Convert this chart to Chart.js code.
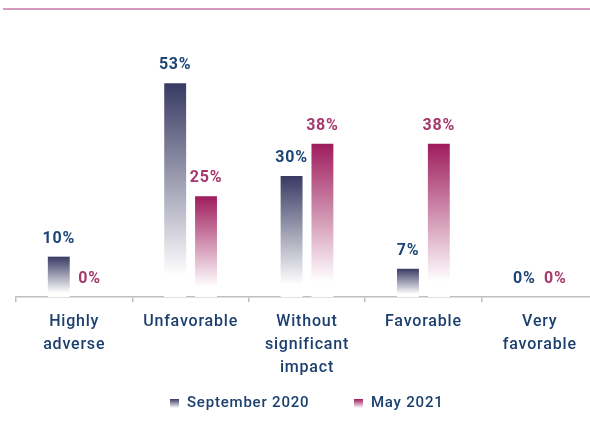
<!DOCTYPE html>
<html>
<head>
<meta charset="utf-8">
<script src="https://cdn.jsdelivr.net/npm/chart.js@4/dist/chart.umd.min.js"></script>
<style>
html,body{margin:0;padding:0;background:#fff;overflow:hidden;}
#wrap{position:relative;width:600px;height:435px;}
</style>
</head>
<body>
<div id="wrap"><canvas id="c"></canvas></div>
<script>
const categories = [["Highly","adverse"],"Unfavorable",["Without","significant","impact"],"Favorable",["Very","favorable"]];
const seriesNames = ["September 2020","May 2021"];
const sep2020 = [10,53,30,7,0];
const may2021 = [0,25,38,38,0];

const barTop = ["#393a63","#9e1c5c"];
const labelColor = ["#1c4474","#a5386c"];
const axisText = "#1b3f6e";
const LS = '0.8px';

function barGradient(ctx, idx){
  const chart = ctx.chart;
  const y = chart.scales && chart.scales.y;
  if(!y || !chart.chartArea || ctx.raw === undefined) return barTop[idx];
  const top = y.getPixelForValue(ctx.raw);
  const base = y.getPixelForValue(0);
  if(Math.abs(base-top) < 1) return barTop[idx];
  const g = chart.ctx.createLinearGradient(0, top, 0, base);
  g.addColorStop(0, barTop[idx]);
  g.addColorStop(0.9, "#ffffff");
  g.addColorStop(1, "#ffffff");
  return g;
}

function legendIcon(idx){
  const c = document.createElement('canvas');
  c.width = 9; c.height = 9;
  const x = c.getContext('2d');
  const g = x.createLinearGradient(0,0,0,9);
  g.addColorStop(0, barTop[idx]);
  g.addColorStop(1, "#ffffff");
  x.fillStyle = g;
  x.fillRect(0,0,9,9);
  return c;
}
const icons = [legendIcon(0), legendIcon(1)];

const spacingPlugin = {
  id:'spacing',
  beforeInit(chart){ chart.ctx.letterSpacing = LS; },
  beforeUpdate(chart){ chart.ctx.letterSpacing = LS; },
  afterLayout(chart){ chart.scales.x.bottom = chart.height; },
  beforeDraw(chart){
    const c = chart.ctx;
    c.letterSpacing = LS;
    c.save();
    c.strokeStyle = '#d59abd';
    c.lineWidth = 2;
    c.beginPath();
    c.moveTo(3, 9); c.lineTo(chart.width, 9);
    c.stroke();
    c.restore();
  }
};

const labelPlugin = {
  id:'valueLabels',
  afterDatasetsDraw(chart){
    const c = chart.ctx;
    c.save();
    c.font = 'bold 16px Roboto';
    c.textAlign = 'center';
    c.textBaseline = 'bottom';
    chart.data.datasets.forEach((ds, di)=>{
      const meta = chart.getDatasetMeta(di);
      meta.data.forEach((el, i)=>{
        c.fillStyle = labelColor[di];
        c.fillText(ds.data[i] + '%', el.x, el.y - 10);
      });
    });
    c.restore();
  }
};

new Chart(document.getElementById('c'), {
  type:'bar',
  data:{
    labels: categories,
    datasets:[
      {label: seriesNames[0], data: sep2020, backgroundColor: (ctx)=>barGradient(ctx,0), pointStyle: icons[0]},
      {label: seriesNames[1], data: may2021, backgroundColor: (ctx)=>barGradient(ctx,1), pointStyle: icons[1]}
    ]
  },
  options:{
    responsive:true,
    maintainAspectRatio:false,
    animation:false,
    devicePixelRatio:1,
    layout:{padding:{top:55,left:16,right:2,bottom:14}},
    datasets:{bar:{categoryPercentage:0.53,barPercentage:0.71}},
    scales:{
      y:{display:false,min:0,max:60},
      x:{
        afterFit(scale){ scale.height = 54; },
        grid:{display:true,drawOnChartArea:false,drawTicks:true,tickLength:5,color:'#bfbfbf',offset:true,lineWidth:1.5},
        border:{display:true,color:'#bfbfbf',width:1.5},
        ticks:{color:axisText,font:{family:'Roboto',size:16,weight:'500',lineHeight:1.45},padding:8,maxRotation:0,autoSkip:false}
      }
    },
    plugins:{
      tooltip:{enabled:false},
      legend:{
        position:'bottom',
        labels:{usePointStyle:true,color:axisText,font:{family:'Roboto',size:15,weight:'500'},padding:45,boxWidth:9,boxHeight:9}
      }
    }
  },
  plugins:[spacingPlugin,labelPlugin]
});
</script>
</body>
</html>
